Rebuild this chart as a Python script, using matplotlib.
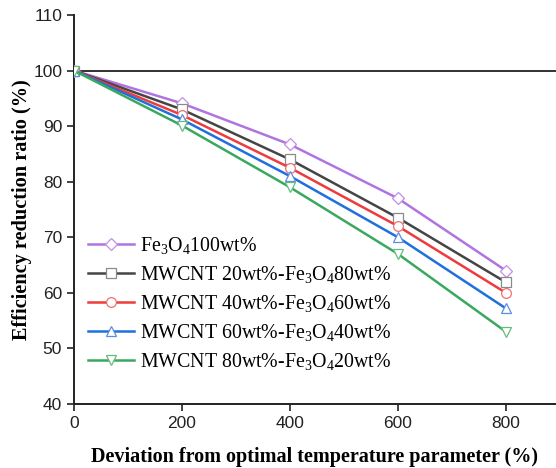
import matplotlib
matplotlib.use("Agg")
import matplotlib.pyplot as plt

plt.rcParams['mathtext.fontset'] = 'custom'
plt.rcParams['mathtext.rm'] = 'Liberation Serif'
plt.rcParams['mathtext.it'] = 'Liberation Serif:italic'
plt.rcParams['mathtext.bf'] = 'Liberation Serif:bold'

x = [0, 200, 400, 600, 800]
fe100 = [100, 94.1, 86.7, 77.0, 64.0]
mw20 = [100, 93.0, 84.0, 73.5, 61.9]
mw40 = [100, 92.0, 82.5, 72.0, 60.0]
mw60 = [100, 91.2, 81.0, 70.0, 57.2]
mw80 = [100, 90.1, 79.0, 67.0, 53.0]

labels = [r'Fe$_3$O$_4$100wt%',
          r'MWCNT 20wt%-Fe$_3$O$_4$80wt%',
          r'MWCNT 40wt%-Fe$_3$O$_4$60wt%',
          r'MWCNT 60wt%-Fe$_3$O$_4$40wt%',
          r'MWCNT 80wt%-Fe$_3$O$_4$20wt%']
series = [fe100, mw20, mw40, mw60, mw80]
colors = ['#B074E0', '#454545', '#EE3B3B', '#1F6FDD', '#3AA85E']
edge = ['#C28EEA', '#8A8A8A', '#F07070', '#5A8EE6', '#66BB80']
markers = ['D', 's', 'o', '^', 'v']
msizes = [6, 6.5, 7, 7.5, 7.5]

fig = plt.figure(figsize=(5.56, 4.68), dpi=100)
ax = fig.add_axes([0.133, 0.137, 0.867, 0.831])

ax.axhline(100, color='#222222', lw=1.3, zorder=1)

for y, c, e, m, ms, lab in zip(series, colors, edge, markers, msizes, labels):
    ax.plot(x, y, color=c, lw=1.8, marker=m, markersize=ms,
            markerfacecolor='white', markeredgecolor=e, markeredgewidth=0.9,
            label=lab, zorder=3)

ax.set_xlim(0, 893)
ax.set_ylim(40, 110)
ax.set_xticks([0, 200, 400, 600, 800])
ax.set_yticks(range(40, 111, 10))
ax.spines['top'].set_visible(False)
ax.spines['right'].set_visible(False)
for s in ['left', 'bottom']:
    ax.spines[s].set_linewidth(1.4)
    ax.spines[s].set_color('#222222')
ax.tick_params(direction='out', length=5, width=1.2, labelsize=12.5, colors='#222222')
for t in ax.get_xticklabels() + ax.get_yticklabels():
    t.set_fontfamily('Liberation Sans')

ax.set_xlabel('Deviation from optimal temperature parameter (%)',
              fontfamily='Liberation Serif', fontweight='bold', fontsize=14.5, labelpad=12)
ax.set_ylabel('Efficiency reduction ratio (%)',
              fontfamily='Liberation Serif', fontweight='bold', fontsize=14.6, labelpad=1)

leg = ax.legend(loc='lower left', bbox_to_anchor=(0.0, 0.047), frameon=False,
                prop={'family': 'Liberation Serif', 'size': 14.3},
                handlelength=2.3, labelspacing=0.4, handletextpad=0.35,
                borderaxespad=0.3)

fig.savefig('out.png', dpi=100)
